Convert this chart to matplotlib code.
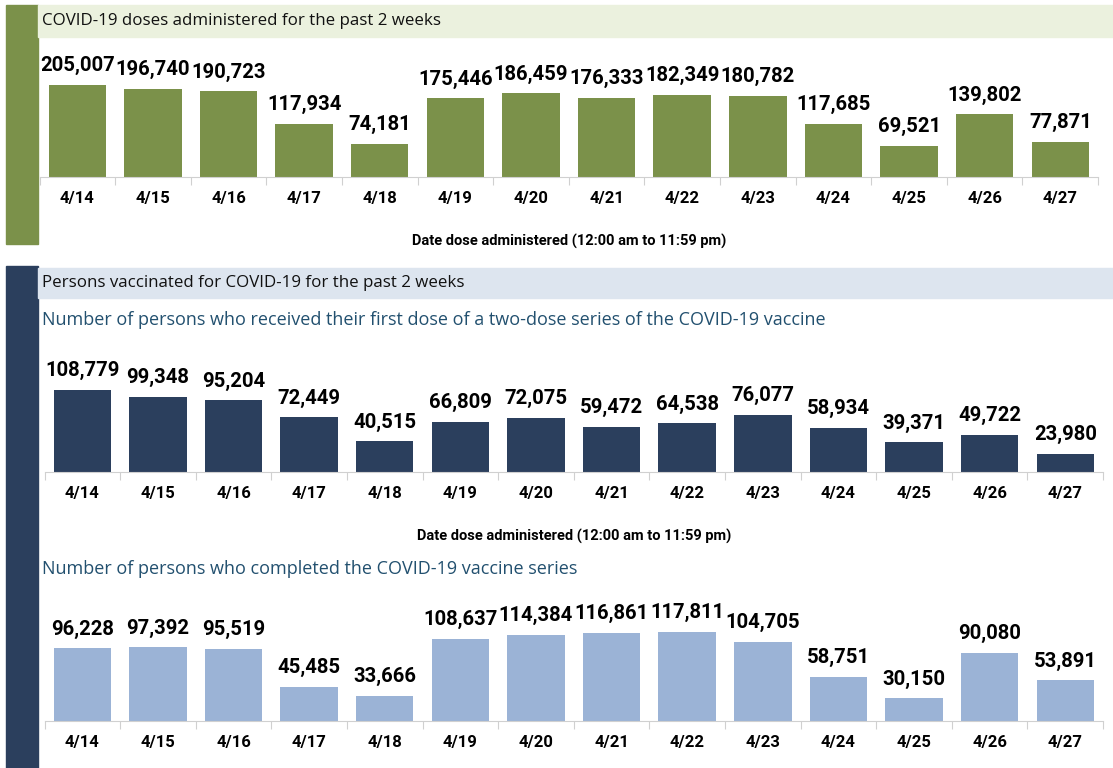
import numpy as np
import matplotlib.pyplot as plt
from matplotlib.patches import Rectangle

W, H = 1113, 768

dates = ["4/14", "4/15", "4/16", "4/17", "4/18", "4/19", "4/20",
         "4/21", "4/22", "4/23", "4/24", "4/25", "4/26", "4/27"]
doses = [205007, 196740, 190723, 117934, 74181, 175446, 186459,
         176333, 182349, 180782, 117685, 69521, 139802, 77871]
first_dose = [108779, 99348, 95204, 72449, 40515, 66809, 72075,
              59472, 64538, 76077, 58934, 39371, 49722, 23980]
completed = [96228, 97392, 95519, 45485, 33666, 108637, 114384,
             116861, 117811, 104705, 58751, 30150, 90080, 53891]

green = "#7b914a"
green_band = "#ebf1de"
navy = "#2b3f5d"
blue_band = "#dde5ef"
light_blue = "#9bb3d6"
sub_color = "#22506f"
narrow = ["Roboto", "DejaVu Sans"]
plain = ["Open Sans", "DejaVu Sans"]

fig = plt.figure(figsize=(W / 100, H / 100), dpi=100)


def px_rect(x0, y0, x1, y1, color):
    fig.patches.append(Rectangle((x0 / W, 1 - y1 / H), (x1 - x0) / W, (y1 - y0) / H,
                                 transform=fig.transFigure, color=color, zorder=0))


def px_text(x, y, s, **kw):
    fig.text(x / W, 1 - y / H, s, **kw)


# side bars and header bands
px_rect(6, 5, 38, 244, green)
px_rect(38, 5, 1113, 37, green_band)
px_rect(6, 266, 38, 768, navy)
px_rect(38, 268, 1113, 298, blue_band)

px_text(42, 21, "COVID-19 doses administered for the past 2 weeks", fontsize=12.2,
        family=plain, va="center", color="#111111")
px_text(42, 283, "Persons vaccinated for COVID-19 for the past 2 weeks", fontsize=12.2,
        family=plain, va="center", color="#111111")
px_text(42, 320, "Number of persons who received their first dose of a two-dose series of the COVID-19 vaccine",
        fontsize=13, family=plain, va="center", color=sub_color)
px_text(42, 569, "Number of persons who completed the COVID-19 vaccine series",
        fontsize=13, family=plain, va="center", color=sub_color)


def bar_panel(values, color, x0, base_y, top_y, ref_val, ref_px, xlabel=None):
    # axes spans from top_y to base_y in pixels
    ax = fig.add_axes([x0 / W, 1 - base_y / H, 1058.6 / W, (base_y - top_y) / H])
    x = np.arange(len(values))
    ax.bar(x, values, width=0.76, color=color)
    ymax = ref_val * (base_y - top_y) / ref_px
    ax.set_ylim(0, ymax)
    ax.set_xlim(-0.5, len(values) - 0.5)
    for xi, v in zip(x, values):
        ax.annotate(f"{v:,}", (xi, v), xytext=(0, 7), textcoords="offset points",
                    ha="center", va="bottom", fontsize=14.6, fontweight="bold", family=narrow)
    for s in ["top", "right", "left"]:
        ax.spines[s].set_visible(False)
    ax.spines["bottom"].set_color("#d0d0d0")
    ax.set_yticks([])
    ax.set_xticks(np.arange(-0.5, len(values)), minor=False)
    ax.set_xticklabels([])
    ax.tick_params(axis="x", length=6, color="#d0d0d0")
    ax.set_xticks(x, minor=True)
    ax.set_xticklabels(dates, minor=True, fontsize=12, fontweight="bold", family=narrow)
    ax.tick_params(axis="x", which="minor", length=0, pad=10)
    if xlabel:
        ax.set_xlabel(xlabel, fontsize=10.5, fontweight="bold", family=narrow, labelpad=20)
    return ax


bar_panel(doses, green, 39.5, 177, 45, 205007, 92,
          xlabel="Date dose administered (12:00 am to 11:59 pm)")
bar_panel(first_dose, navy, 44.5, 472, 340, 108779, 82,
          xlabel="Date dose administered (12:00 am to 11:59 pm)")
bar_panel(completed, light_blue, 44.5, 721, 590, 117811, 89)

fig.savefig("out.png", dpi=100)
